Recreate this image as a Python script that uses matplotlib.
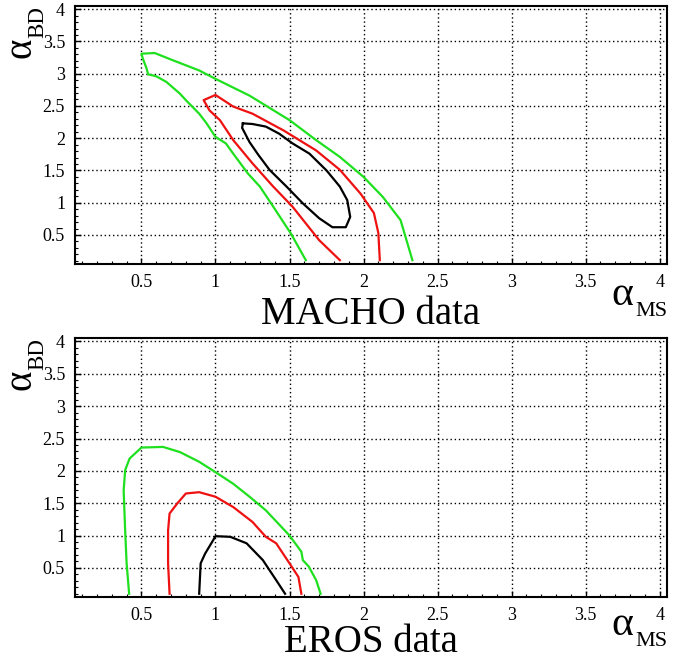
import numpy as np
import matplotlib
matplotlib.use('Agg')
import matplotlib.pyplot as plt
from matplotlib.ticker import MultipleLocator, FormatStrFormatter

plt.rcParams['font.family'] = ['Liberation Serif', 'DejaVu Serif']
plt.rcParams['mathtext.fontset'] = 'custom'
plt.rcParams['mathtext.rm'] = 'Liberation Serif'
plt.rcParams['mathtext.it'] = 'Liberation Serif:italic'

# MACHO contours (alpha_MS, alpha_BD)
macho_green_x = [1.61, 1.51, 1.39, 1.30, 1.22, 1.12, 1.07, 1.00, 0.94, 0.89, 0.80, 0.76, 0.67, 0.60, 0.545, 0.535, 0.51, 0.50,
                 0.59, 0.71, 0.89, 1.00, 1.23, 1.50, 1.68, 1.84, 2.00, 2.13, 2.25, 2.29, 2.33]
macho_green_y = [0.11, 0.52, 0.94, 1.25, 1.45, 1.76, 1.92, 2.02, 2.23, 2.38, 2.59, 2.69, 2.87, 2.96, 2.99, 3.08, 3.23, 3.31,
                 3.32, 3.21, 3.05, 2.92, 2.66, 2.28, 1.97, 1.71, 1.40, 1.09, 0.73, 0.42, 0.11]

macho_red_x = [1.84, 1.70, 1.52, 1.39, 1.25, 1.12, 1.03, 0.96, 0.92, 1.00, 1.12, 1.25, 1.46, 1.68, 1.84, 1.98, 2.07, 2.10, 2.11]
macho_red_y = [0.11, 0.42, 0.94, 1.25, 1.61, 1.97, 2.28, 2.43, 2.59, 2.67, 2.49, 2.38, 2.12, 1.81, 1.51, 1.14, 0.84, 0.53, 0.11]

macho_black_x = [1.185, 1.18, 1.23, 1.29, 1.365, 1.48, 1.59, 1.70, 1.79, 1.88, 1.91, 1.89, 1.84, 1.75, 1.635, 1.52, 1.43, 1.34, 1.25, 1.185]
macho_black_y = [2.23, 2.16, 1.94, 1.74, 1.51, 1.25, 0.99, 0.76, 0.62, 0.62, 0.78, 1.04, 1.25, 1.50, 1.76, 1.92, 2.07, 2.18, 2.22, 2.23]

# EROS contours
eros_green_x = [0.417, 0.40, 0.39, 0.38, 0.39, 0.42, 0.50, 0.646, 0.76, 0.89, 1.00, 1.12, 1.23, 1.34, 1.50, 1.58, 1.59, 1.63, 1.68, 1.71]
eros_green_y = [0.10, 0.57, 1.08, 1.70, 2.01, 2.19, 2.36, 2.37, 2.29, 2.14, 1.98, 1.80, 1.60, 1.39, 1.00, 0.75, 0.62, 0.52, 0.31, 0.10]

eros_red_x = [0.69, 0.68, 0.68, 0.69, 0.74, 0.80, 0.89, 1.00, 1.12, 1.25, 1.34, 1.41, 1.50, 1.56, 1.58]
eros_red_y = [0.10, 0.57, 1.08, 1.34, 1.49, 1.65, 1.67, 1.60, 1.44, 1.21, 0.98, 0.88, 0.57, 0.36, 0.10]

eros_black_x = [0.89, 0.90, 0.93, 0.985, 1.00, 1.10, 1.21, 1.32, 1.41, 1.47]
eros_black_y = [0.10, 0.57, 0.72, 0.93, 0.99, 0.98, 0.88, 0.62, 0.31, 0.10]

green = '#1ee01e'
red = '#ee1111'

W, H = 680, 660
fig = plt.figure(figsize=(6.8, 6.6), dpi=100)
ax1 = fig.add_axes([0.110, 0.600, 0.871, 0.391])
ax2 = fig.add_axes([0.110, 0.0955, 0.871, 0.392])


def style(ax):
    ax.set_xlim(0.05, 4.05)
    ax.set_ylim(0.05, 4.05)
    ax.xaxis.set_major_locator(MultipleLocator(0.5))
    ax.yaxis.set_major_locator(MultipleLocator(0.5))
    ax.xaxis.set_minor_locator(MultipleLocator(0.1))
    ax.yaxis.set_minor_locator(MultipleLocator(0.1))
    ax.xaxis.set_major_formatter(FormatStrFormatter('%g'))
    ax.yaxis.set_major_formatter(FormatStrFormatter('%g'))
    ax.tick_params(which='both', direction='in', labelsize=13)
    ax.tick_params(which='major', length=4, width=1, pad=7)
    ax.tick_params(which='minor', length=2.5, width=0.8)
    ax.grid(True, which='major', linestyle=(0, (1, 2)), color='black', linewidth=1)
    for s in ax.spines.values():
        s.set_linewidth(1.5)


for ax in (ax1, ax2):
    style(ax)

lw = 1.6
ax1.plot(macho_green_x, macho_green_y, color=green, lw=lw)
ax1.plot(macho_red_x, macho_red_y, color=red, lw=lw)
ax1.plot(macho_black_x, macho_black_y, color='black', lw=lw)

ax2.plot(eros_green_x, eros_green_y, color=green, lw=lw)
ax2.plot(eros_red_x, eros_red_y, color=red, lw=lw)
ax2.plot(eros_black_x, eros_black_y, color='black', lw=lw)


def px(x, y):
    return x / W, 1 - y / H


fig.text(*px(371, 324), 'MACHO data', fontsize=28, ha='center', va='baseline')
fig.text(*px(371, 652), 'EROS data', fontsize=28, ha='center', va='baseline')

# axis labels: alpha with subscript, drawn as two pieces
for dy in (0, 330):
    fig.text(*px(611, 305 + dy), r'$\mathrm{\alpha}$', fontsize=30, ha='left', va='baseline')
    fig.text(*px(635, 316 + dy), 'MS', fontsize=16, ha='left', va='baseline')
for dy in (0, 332):
    fig.text(*px(32, 60 + dy), r'$\mathrm{\alpha}$', fontsize=28, ha='left', va='baseline',
             rotation=90, rotation_mode='anchor')
    fig.text(*px(43, 38 + dy), 'BD', fontsize=16.5, ha='left', va='baseline',
             rotation=90, rotation_mode='anchor')

fig.savefig('out.png', dpi=100)
